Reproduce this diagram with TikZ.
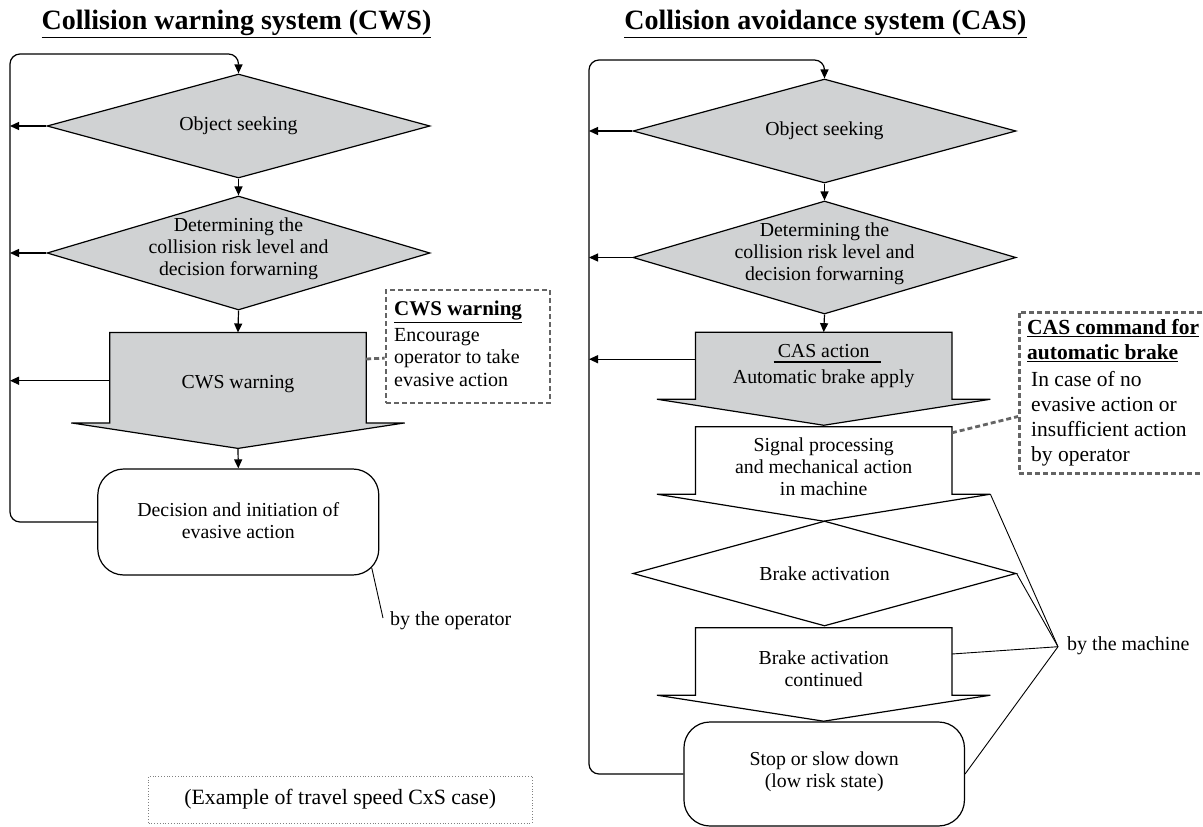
\documentclass[tikz,border=0pt]{standalone}
\usepackage{fontspec}
\setmainfont{Liberation Serif}
\usetikzlibrary{shapes.geometric,arrows.meta,calc}
\definecolor{boxgray}{RGB}{208,210,211}
\definecolor{dashgray}{RGB}{100,100,100}
\newcommand\arrowbox[3]{%
  \draw[ln,fill=#2] (#1.north west) -- (#1.north east) -- (#1.south east)
    -- ++(38.5,0) coordinate (#1R) -- ($(#1.south)+(0,#3)$) coordinate (#1T)
    -- ($(#1.south west)+(-38.5,0)$) coordinate (#1L) -- (#1.south west) -- cycle;}
\begin{document}
\begin{tikzpicture}[x=1pt,y=-1pt,
  ln/.style={draw=black,line width=1.2pt},
  arr/.style={ln,-{Triangle[length=9pt,width=8pt]}},
  thinln/.style={draw=black,line width=0.9pt},
  txt/.style={font=\fontsize{19.8}{22}\selectfont,align=center,inner sep=0pt},
  dia/.style={diamond,ln,fill=boxgray,minimum width=383pt,minimum height=104pt,inner sep=0pt},
  body/.style={rectangle,inner sep=0pt,minimum width=256pt},
  rbox/.style={rectangle,rounded corners=26pt,ln,fill=white,minimum width=281pt,minimum height=106pt,inner sep=0pt},
  callout/.style={rectangle,draw=dashgray,line width=2.8pt,dash pattern=on 5pt off 3pt,inner sep=0pt},
  dashconn/.style={draw=dashgray,line width=2.8pt,dash pattern=on 5pt off 3pt},
  title/.style={font=\fontsize{28}{32}\selectfont\bfseries,inner sep=0pt,anchor=base},
  note/.style={font=\fontsize{20}{22}\selectfont,inner sep=0pt,anchor=west},
]
\useasboundingbox (0,0) rectangle (1203,827);

% ---------------- titles
\node[title] (tL) at (236.5,30) {\underline{Collision warning system (CWS)}};
\node[title] (tR) at (825.5,30) {\underline{Collision avoidance system (CAS)}};

% ================= LEFT: CWS
\coordinate (loopL) at (10,54);
\node[dia,label={[txt]center:Object seeking}] (d1L) at (238.5,126) {};
\node[dia,minimum height=114pt,
      label={[txt,yshift=4pt]center:Determining the\\collision risk level and\\decision forwarning}] (d2L) at (238.5,253) {};
\node[body,minimum height=90pt] (cwsB) at (238,377.7) {};
\arrowbox{cwsB}{boxgray}{25.5}
\node[txt] (cwsT) at (238,384) {CWS warning};
\node[rbox] (decL) at (238.3,522) {};
\node[txt] (decT) at (238.3,521) {Decision and initiation of\\evasive action};

\draw[arr] (d1L.south) -- (d2L.north);
\draw[arr] (d2L.south) -- (cwsB.north);
\draw[arr] (cwsBT) -- (decL.north);

\draw[arr,rounded corners=10pt] (decL.west) -| (loopL) -| (d1L.north);
\draw[arr] (d1L.west) -- (d1L.west -| loopL);
\draw[arr] (d2L.west) -- (d2L.west -| loopL);
\draw[arr] ($(cwsB.west)+(0,3)$) coordinate (cwsA) -- (cwsA -| loopL);

% CWS callout
\node[callout,minimum width=164pt,minimum height=113pt] (calL) at (468,346.5) {};
\node[inner sep=0pt,anchor=north west,align=left,font=\fontsize{20}{22.5}\selectfont] (calLT) at (394,301)
  {{\fontsize{21}{23}\selectfont\bfseries\underline{CWS warning}}\\[3pt]Encourage\\operator to take\\evasive action};
\draw[dashconn] ($(cwsB.north east)+(0,26.5)$) -- ($(calL.north west)+(0,69.5)$);

% by the operator
\coordinate (opA) at ($(decL.south east)+(-7.6,-7.5)$);
\node[note] (byop) at (390,621) {by the operator};
\coordinate (opB) at (383,618);
\draw[thinln] (opA) -- (opB);

% example box
\node[draw=gray,dotted,line width=0.8pt,minimum width=383.5pt,minimum height=47pt,inner sep=0pt,
      font=\fontsize{21.8}{24}\selectfont] (ex) at (340.25,799.5) {(Example of travel speed CxS case)};

% ================= RIGHT: CAS
\coordinate (loopR) at (589,60);
\node[dia,label={[txt]center:Object seeking}] (d1R) at (824.5,131) {};
\node[dia,minimum height=113pt,
      label={[txt,yshift=4pt]center:Determining the\\collision risk level and\\decision forwarning}] (d2R) at (824.5,257.5) {};
\node[body,minimum height=66.7pt] (casB) at (823.7,365.7) {};
\arrowbox{casB}{boxgray}{26}
\node[txt,font=\fontsize{19.8}{26}\selectfont] (casT) at (823.7,366) {CAS action\\Automatic brake apply};
\draw[line width=1.2pt] ($(casT.center)+(-50,-4)$) -- ($(casT.center)+(57,-4)$);

\node[body,minimum height=67pt] (sigB) at (823.7,460.5) {};
\arrowbox{sigB}{white}{27}
\node[txt] (sigT) at (823.7,467) {Signal processing\\and mechanical action\\in machine};

\node[dia,fill=white,minimum height=105pt,label={[txt]center:Brake activation}] (d3R) at (824.5,573.5) {};

\node[body,minimum height=67pt] (brkB) at (823.7,661.5) {};
\arrowbox{brkB}{white}{26}
\node[txt] (brkT) at (823.7,668.5) {Brake activation\\continued};

\node[rbox,minimum width=280.5pt,minimum height=104pt] (stop) at (824.2,774) {};
\node[txt,font=\fontsize{19.8}{22.5}\selectfont] (stopT) at (824.2,771.5) {Stop or slow down\\(low risk state)};

\draw[arr] (d1R.south) -- (d2R.north);
\draw[arr] (d2R.south) -- (casB.north);
\draw[arr,rounded corners=10pt] (stop.west) -| (loopR) -| (d1R.north);
\draw[arr] (d1R.west) -- (d1R.west -| loopR);
\draw[arr] (d2R.west) -- (d2R.west -| loopR);
\draw[arr] ($(casB.west)+(0,-6.5)$) coordinate (casA) -- (casA -| loopR);

% CAS callout
\node[callout,anchor=north west,minimum width=215pt,minimum height=161pt] (calR) at (1018,311) {};
\node[inner sep=0pt,anchor=north west,align=left,font=\fontsize{21.5}{25}\selectfont] (calRT) at (1027,319)
  {{\bfseries\underline{CAS command for}}\\{\bfseries\underline{automatic brake}}\\[2pt]
   \hspace*{4pt}In case of no\\\hspace*{4pt}evasive action or\\\hspace*{4pt}insufficient action\\\hspace*{4pt}by operator};
\draw[dashconn] ($(sigB.north east)+(0,6)$) -- ($(calR.north west)+(0,105.5)$);

% by the machine
\node[note] (bym) at (1067,646) {by the machine};
\coordinate (bymP) at (1058,646.7);
\draw[thinln] (sigBR) -- (bymP);
\draw[thinln] (d3R.east) -- (bymP);
\draw[thinln] ($(brkB.east)+(0,-7.5)$) -- (bymP);
\draw[thinln] (stop.east) -- (bymP);
\end{tikzpicture}
\end{document}
